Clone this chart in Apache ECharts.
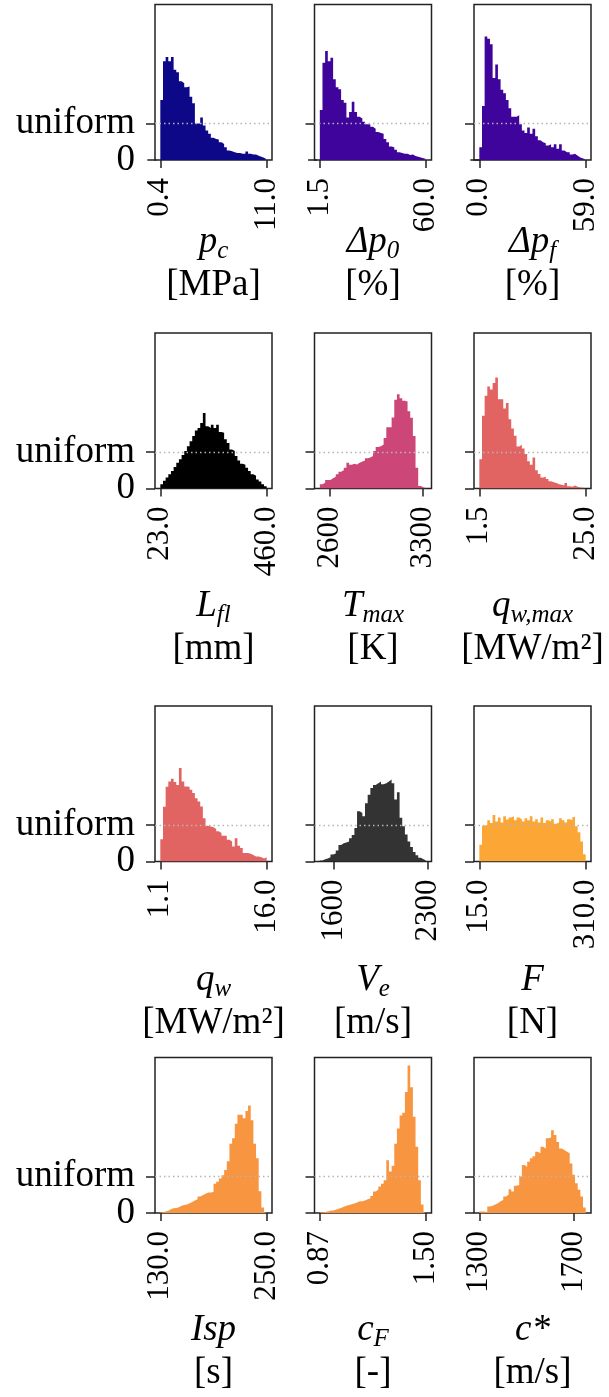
<!DOCTYPE html>
<html>
<head>
<meta charset="utf-8">
<script src="https://cdn.jsdelivr.net/npm/echarts@6/dist/echarts.min.js"></script>
<style>
  html, body { margin: 0; padding: 0; background: #fff; }
  #chart { width: 609px; height: 1397px; }
</style>
</head>
<body>
<div id="chart"></div>
<script>
// panels, row by row
const symbols = [['p', 'c'], ['Δp', '0'], ['Δp', 'f'], ['L', 'fl'], ['T', 'max'], ['q', 'w,max'],
  ['q', 'w'], ['V', 'e'], ['F', ''], ['Isp', ''], ['c', 'F'], ['c*', '']]
const units = ['[MPa]', '[%]', '[%]', '[mm]', '[K]', '[MW/m²]', '[MW/m²]', '[m/s]', '[N]', '[s]', '[-]', '[m/s]']
const colors = ['#0d0887', '#3e049c', '#3e049c', '#000000', '#cc4778', '#e16462',
  '#e16462', '#333333', '#fca636', '#f89540', '#f89540', '#f89540']
// range covered by the histogram bins
const binRange = [[0.4, 11.0], [1.5, 60.0], [0.0, 59.0], [23, 460], [2525, 3323], [1.5, 25.0],
  [1.1, 16.0], [1497, 2290], [15, 310], [130, 250], [0.87, 1.50], [1300, 1751]]
const tickValues = [[0.4, 11.0], [1.5, 60.0], [0.0, 59.0], [23, 460], [2600, 3300], [1.5, 25.0],
  [1.1, 16.0], [1600, 2300], [15, 310], [130, 250], [0.87, 1.50], [1300, 1700]]
const tickLabels = [['0.4', '11.0'], ['1.5', '60.0'], ['0.0', '59.0'], ['23.0', '460.0'], ['2600', '3300'], ['1.5', '25.0'],
  ['1.1', '16.0'], ['1600', '2300'], ['15.0', '310.0'], ['130.0', '250.0'], ['0.87', '1.50'], ['1300', '1700']]

// bin heights, in units of the uniform density (40 bins each)
const h_pc = [1.65, 2.71, 2.83, 2.71, 2.83, 2.48, 2.41, 2.16, 2.11, 2.0, 2.02, 1.74, 1.56, 1.0, 1.0, 1.17, 0.95, 0.81, 0.72, 0.61,
  0.58, 0.56, 0.49, 0.44, 0.35, 0.26, 0.24, 0.21, 0.19, 0.19, 0.17, 0.17, 0.23, 0.17, 0.15, 0.15, 0.12, 0.09, 0.06, 0.02]
const h_dp0 = [1.37, 2.67, 2.99, 2.71, 2.81, 2.22, 2.0, 1.94, 1.65, 1.57, 1.17, 1.32, 1.6, 1.32, 1.19, 1.14, 1.05, 0.98, 0.98, 0.91,
  0.86, 0.77, 0.74, 0.72, 0.58, 0.49, 0.37, 0.35, 0.28, 0.21, 0.19, 0.17, 0.17, 0.14, 0.15, 0.11, 0.09, 0.07, 0.05, 0.03]
const h_dpf = [0.35, 1.48, 3.39, 3.33, 3.18, 2.25, 2.62, 2.22, 1.93, 1.83, 1.65, 1.42, 1.19, 1.19, 1.23, 0.98, 0.81, 0.74, 0.89, 0.72,
  0.86, 0.65, 0.54, 0.49, 0.46, 0.40, 0.43, 0.35, 0.43, 0.31, 0.43, 0.26, 0.21, 0.21, 0.15, 0.17, 0.12, 0.07, 0.04, 0.02]
const h_lfl = [0.12, 0.21, 0.3, 0.39, 0.48, 0.59, 0.71, 0.8, 0.92, 1.03, 1.16, 1.3, 1.44, 1.59, 1.66, 1.8, 2.07, 1.71, 1.66, 1.75,
  1.66, 1.75, 1.55, 1.53, 1.35, 1.25, 1.07, 1.03, 0.89, 0.77, 0.68, 0.65, 0.57, 0.48, 0.39, 0.35, 0.25, 0.19, 0.12, 0.06]
const h_tmax = [0.12, 0.16, 0.23, 0.23, 0.28, 0.32, 0.39, 0.46, 0.5, 0.57, 0.71, 0.65, 0.68, 0.66, 0.71, 0.74, 0.77, 0.83, 0.85, 0.89,
  1.03, 1.14, 1.16, 1.21, 1.39, 1.68, 1.68, 1.95, 2.44, 2.59, 2.48, 2.41, 2.39, 2.12, 1.94, 1.44, 0.57, 0.07, 0.03, 0.01]
const h_qwmax = [0.8, 2.0, 2.55, 2.8, 2.72, 2.9, 3.05, 2.45, 2.45, 2.2, 2.35, 1.9, 1.65, 1.45, 1.15, 1.2, 1.1, 0.95, 0.75, 0.65,
  0.85, 0.5, 0.4, 0.3, 0.32, 0.26, 0.2, 0.17, 0.15, 0.12, 0.1, 0.08, 0.15, 0.06, 0.05, 0.08, 0.05, 0.03, 0.02, 0.01]
const h_qw = [0.61, 1.5, 2.05, 2.2, 2.27, 2.18, 2.1, 2.57, 2.2, 2.06, 2.05, 1.97, 1.88, 1.74, 1.65, 1.51, 1.19, 0.98, 0.96, 0.94,
  0.89, 0.83, 0.78, 0.71, 0.71, 0.6, 0.55, 0.41, 0.64, 0.43, 0.37, 0.23, 0.23, 0.21, 0.18, 0.14, 0.14, 0.12, 0.08, 0.12]
const h_ve = [0.03, 0.06, 0.08, 0.12, 0.19, 0.22, 0.3, 0.45, 0.5, 0.52, 0.55, 0.64, 0.73, 0.92, 1.38, 1.33, 1.24, 1.6, 1.83, 2.02,
  2.1, 2.15, 2.2, 2.12, 2.15, 2.2, 2.25, 2.15, 1.7, 1.9, 1.2, 0.97, 0.74, 0.55, 0.4, 0.26, 0.17, 0.1, 0.06, 0.03]
const h_f = [0.46, 0.98, 1.01, 1.13, 1.06, 1.28, 1.10, 1.21, 1.07, 1.24, 1.15, 1.21, 1.24, 1.13, 1.21, 1.16, 1.10, 1.19, 1.13, 1.24,
  1.10, 1.16, 1.07, 1.21, 1.06, 1.13, 1.10, 1.16, 1.04, 1.07, 1.19, 1.13, 1.07, 1.16, 1.14, 1.22, 0.97, 0.8, 0.55, 0.2]
const h_isp = [0.02, 0.04, 0.06, 0.1, 0.13, 0.14, 0.16, 0.2, 0.22, 0.23, 0.27, 0.3, 0.34, 0.38, 0.45, 0.49, 0.53, 0.56, 0.56, 0.58,
  0.8, 0.86, 0.95, 1.04, 1.18, 1.42, 1.9, 2.05, 2.45, 2.7, 2.7, 2.6, 2.8, 2.95, 2.55, 1.9, 1.5, 0.6, 0.15, 0.03]
const h_cf = [0.02, 0.03, 0.04, 0.06, 0.07, 0.09, 0.12, 0.14, 0.17, 0.2, 0.22, 0.24, 0.26, 0.29, 0.32, 0.32, 0.34, 0.38, 0.4, 0.47,
  0.59, 0.64, 0.73, 0.8, 0.9, 1.45, 1.14, 1.3, 1.9, 2.32, 2.68, 2.75, 3.32, 4.05, 3.45, 2.64, 1.82, 0.9, 0.23, 0.02]
const h_cstar = [0.04, 0.04, 0.02, 0.18, 0.2, 0.23, 0.27, 0.32, 0.36, 0.45, 0.5, 0.65, 0.59, 0.75, 0.77, 1.0, 1.32, 1.27, 1.41, 1.5,
  1.56, 1.68, 1.64, 1.82, 1.77, 2.05, 2.07, 2.27, 2.14, 1.95, 1.77, 1.73, 1.68, 1.64, 1.36, 1.05, 0.82, 0.64, 0.45, 0.15]
const heights = [h_pc, h_dp0, h_dpf, h_lfl, h_tmax, h_qwmax, h_qw, h_ve, h_f, h_isp, h_cf, h_cstar]
const yTicks = [0, 1]
const yTickLabels = ['0', 'uniform']

// layout
const colLeft = [155, 314.5, 474]
const rowTop = [4.5, 333, 706, 1057.5]
const boxW = 117
const boxH = 155.5
const nameGap = [61, 96, 97, 96]
const yMax = 4.27
const serif = '"Liberation Serif", "Times New Roman", serif'

const grid = [], xAxis = [], yAxis = [], series = []
heights.forEach((h, i) => {
  const row = Math.floor(i / 3), col = i % 3
  const [lo, hi] = binRange[i]
  const pad = (hi - lo) * 0.05
  grid.push({
    left: colLeft[col], top: rowTop[row], width: boxW, height: boxH,
    show: true, borderColor: '#222', borderWidth: 1.5, backgroundColor: 'transparent'
  })
  xAxis.push({
    type: 'value', gridIndex: i, min: lo - pad, max: hi + pad,
    axisLine: { show: false },
    splitLine: { show: false },
    axisTick: { show: true, customValues: tickValues[i], length: 8, lineStyle: { color: '#222', width: 1.5 } },
    axisLabel: {
      customValues: tickValues[i], rotate: 90, margin: 18,
      showMinLabel: true, showMaxLabel: true,
      fontFamily: serif, fontSize: 31, color: '#000',
      formatter: (v) => {
        const t = tickValues[i]
        return Math.abs(v - t[0]) < Math.abs(v - t[1]) ? tickLabels[i][0] : tickLabels[i][1]
      }
    },
    name: '{v|' + symbols[i][0] + '}' + (symbols[i][1] ? '{s|' + symbols[i][1] + '}' : '') + '\n{u|' + units[i] + '}',
    nameLocation: 'middle',
    nameGap: nameGap[row],
    nameMoveOverlap: false,
    nameTextStyle: {
      color: '#000',
      rich: {
        v: { fontFamily: serif, fontStyle: 'italic', fontSize: 37, lineHeight: 43, color: '#000' },
        s: { fontFamily: serif, fontStyle: 'italic', fontSize: 25, lineHeight: 22, verticalAlign: 'bottom', color: '#000' },
        u: { fontFamily: serif, fontSize: 37, lineHeight: 43, color: '#000' }
      }
    }
  })
  // one y axis per label so that the two labels never compete for space
  yTicks.forEach((t, k) => {
    yAxis.push({
      type: 'value', gridIndex: i, min: 0, max: yMax, position: 'left', offset: 0,
      axisLine: { show: false },
      splitLine: { show: false },
      axisTick: { show: true, customValues: [t], length: 9, lineStyle: { color: '#222', width: 1.5 } },
      axisLabel: {
        show: col === 0, customValues: [t], margin: 20,
        showMinLabel: true, showMaxLabel: true,
        fontFamily: serif, fontSize: 37, color: '#000',
        formatter: () => yTickLabels[k]
      }
    })
  })
  const n = h.length
  const data = h.map((v, k) => [lo + (hi - lo) * k / n, v])
  data.push([hi, h[n - 1]])
  series.push({
    type: 'line', xAxisIndex: i, yAxisIndex: 2 * i, step: 'end',
    data: data, symbol: 'none', silent: true,
    lineStyle: { width: 0, color: colors[i] },
    areaStyle: { color: colors[i], opacity: 1 },
    markLine: {
      silent: true, symbol: 'none',
      label: { show: false },
      lineStyle: { color: '#b5b5b5', type: [1.5, 3], width: 1.3 },
      data: [{ yAxis: 1 }]
    }
  })
})

const myChart = echarts.init(document.getElementById('chart'), null, { renderer: 'canvas' })
myChart.setOption({ animation: false, grid, xAxis, yAxis, series })
</script>
</body>
</html>
